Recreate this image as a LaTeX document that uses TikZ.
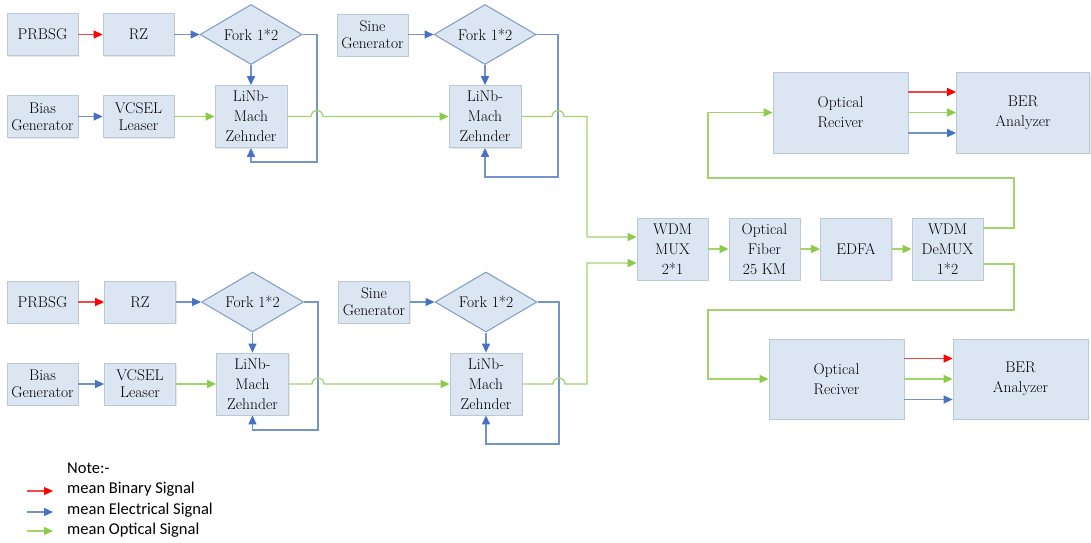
\documentclass[tikz,border=0pt]{standalone}
\usepackage{fontspec}
\newfontfamily\serifface{Latin Modern Roman}
\newfontfamily\notefont{Carlito}
\usetikzlibrary{arrows.meta,shapes.geometric,shadows}

\definecolor{boxfill}{HTML}{DCE6F2}
\definecolor{boxline}{HTML}{BCC8D6}
\definecolor{forkline}{HTML}{7E9CC4}
\definecolor{redline}{HTML}{F04848}
\definecolor{redtip}{HTML}{FF0000}
\definecolor{blueline}{HTML}{7393CA}
\definecolor{bluetip}{HTML}{4472C4}
\definecolor{greenline}{HTML}{A2D46C}
\definecolor{greentip}{HTML}{8CCB48}

\newcommand{\mainsz}{\serifface\fontsize{15.5}{20}\selectfont}
\newcommand{\notesz}{\notefont\fontsize{16.5}{20}\selectfont}

\tikzset{
  blk/.style={draw=boxline, fill=boxfill, line width=0.8pt,
    minimum width=71pt, minimum height=42pt, inner sep=1pt,
    align=center, font=\mainsz,
    drop shadow={opacity=0.18, shadow xshift=1.2pt, shadow yshift=-1.2pt}},
  fork/.style={diamond, shape aspect=1.7, draw=forkline, fill=boxfill,
    line width=1pt, minimum width=102pt, minimum height=60pt,
    inner sep=0pt, font=\mainsz},
  sig/.style={line width=1.3pt},
  bin/.style={sig, draw=redline, -{Triangle[length=9pt,width=8pt,color=redtip]}},
  elec/.style={sig, draw=blueline, -{Triangle[length=9pt,width=8pt,color=bluetip]}},
  opt/.style={sig, draw=greenline, -{Triangle[length=9pt,width=8pt,color=greentip]}},
  hop/.style={start angle=180, end angle=360, radius=6}
}

\begin{document}
\begin{tikzpicture}[x={(1pt,0pt)}, y={(0pt,-1pt)}]
\fill[white] (0,0) rectangle (1091,542);
\path[use as bounding box] (0,0) rectangle (1091,542);

% ---------- upper transmitter ----------
\node[blk] (PR1) at (42.5,34.5) {PRBSG};
\node[blk] (RZ1) at (138.5,34.5) {RZ};
\node[fork] (F1) at (251,34.5) {Fork 1*2};
\node[blk] (SG1) at (372.5,35) {Sine\\[-3pt]Generator};
\node[fork] (F2) at (485,34.5) {Fork 1*2};
\node[blk] (BG1) at (42.5,116.5) {Bias\\[-3pt]Generator};
\node[blk] (VC1) at (138.5,116.5) {VCSEL\\[-3pt]Leaser};
\node[blk, minimum width=72pt, minimum height=62pt] (L1) at (251,116.5) {LiNb-\\Mach\\Zehnder};
\node[blk, minimum width=72pt, minimum height=62pt] (L2) at (485,116.5) {LiNb-\\Mach\\Zehnder};

% ---------- lower transmitter ----------
\node[blk] (PR2) at (42.5,302) {PRBSG};
\node[blk] (RZ2) at (140,302) {RZ};
\node[fork] (F3) at (252.5,302) {Fork 1*2};
\node[blk] (SG2) at (374,302) {Sine\\[-3pt]Generator};
\node[fork] (F4) at (486,302) {Fork 1*2};
\node[blk] (BG2) at (42.5,384) {Bias\\[-3pt]Generator};
\node[blk] (VC2) at (140,384) {VCSEL\\[-3pt]Leaser};
\node[blk, minimum width=72pt, minimum height=62pt] (L3) at (252.5,384) {LiNb-\\Mach\\Zehnder};
\node[blk, minimum width=72pt, minimum height=62pt] (L4) at (486,384) {LiNb-\\Mach\\Zehnder};

% ---------- link ----------
\node[blk, minimum height=62pt] (MX) at (672.5,249) {WDM\\MUX\\2*1};
\node[blk, minimum height=62pt] (OF) at (764.5,249) {Optical\\Fiber\\25 KM};
\node[blk, minimum height=62pt] (ED) at (856,249) {EDFA};
\node[blk, minimum height=62pt] (DM) at (947.5,249) {WDM\\DeMUX\\1*2};

% ---------- receivers ----------
\node[blk, minimum width=135pt, minimum height=81pt] (OR1) at (840.5,112.5) {Optical\\Reciver};
\node[blk, minimum width=133pt, minimum height=81pt] (BE1) at (1023,112.5) {BER\\Analyzer};
\node[blk, minimum width=135pt, minimum height=80pt] (OR2) at (836.5,379) {Optical\\Reciver};
\node[blk, minimum width=135pt, minimum height=80pt] (BE2) at (1020.5,379) {BER\\Analyzer};

% ---------- routing points ----------
\coordinate (f1c) at (317,162);
\coordinate (f2c) at (558,177);
\coordinate (f3c) at (318,430);
\coordinate (f4c) at (559,444);
\coordinate (h1) at (317,116.5);
\coordinate (h2) at (558,116.5);
\coordinate (h3) at (318,384);
\coordinate (h4) at (559,384);
\coordinate (j1) at (587,116.5);
\coordinate (j2) at (587,384);
\coordinate (ur) at (1014,178);
\coordinate (ul) at (708,178);
\coordinate (lr) at (1014,310);
\coordinate (ll) at (708,310);

% ---------- upper transmitter links ----------
\draw[bin] (PR1) -- (RZ1);
\draw[elec] (RZ1) -- (F1.west);
\draw[elec] (F1.south) -- (L1.north);
\draw[elec] (BG1) -- (VC1);
\draw[opt] (VC1) -- (L1.west);
\draw[elec] (F1.east) -| (f1c) -| (L1.south);
\draw[elec] (SG1.east |- F2.west) -- (F2.west);
\draw[elec] (F2.south) -- (L2.north);
\draw[elec] (F2.east) -| (f2c) -| (L2.south);
\draw[opt] (L1.east) -- ([xshift=-6pt]h1) arc[hop] -- (L2.west);
\draw[opt] (L2.east) -- ([xshift=-6pt]h2) arc[hop] -- (j1) |- ([yshift=12pt]MX.west);

% ---------- lower transmitter links ----------
\draw[bin] (PR2) -- (RZ2);
\draw[elec] (RZ2) -- (F3.west);
\draw[elec] (F3.south) -- (L3.north);
\draw[elec] (BG2) -- (VC2);
\draw[opt] (VC2) -- (L3.west);
\draw[elec] (F3.east) -| (f3c) -| (L3.south);
\draw[elec] (SG2) -- (F4.west);
\draw[elec] (F4.south) -- (L4.north);
\draw[elec] (F4.east) -| (f4c) -| (L4.south);
\draw[opt] (L3.east) -- ([xshift=-6pt]h3) arc[hop] -- (L4.west);
\draw[opt] (L4.east) -- ([xshift=-6pt]h4) arc[hop] -- (j2) |- ([yshift=-14pt]MX.west);

% ---------- link chain ----------
\draw[opt] (MX) -- (OF);
\draw[opt] (OF) -- (ED);
\draw[opt] (ED) -- (DM);
\draw[opt] ([yshift=21pt]DM.east) -| (ur) -- (ul) |- (OR1.west);
\draw[opt] ([yshift=-15pt]DM.east) -| (lr) -- (ll) |- (OR2.west);

% ---------- receiver to analyzer ----------
\draw[bin] ([yshift=20.5pt]OR1.east) -- ([yshift=20.5pt]OR1.east -| BE1.west);
\draw[opt] (OR1.east) -- (BE1.west);
\draw[elec] ([yshift=-20.5pt]OR1.east) -- ([yshift=-20.5pt]OR1.east -| BE1.west);
\draw[bin] ([yshift=20.5pt]OR2.east) -- ([yshift=20.5pt]OR2.east -| BE2.west);
\draw[opt] (OR2.east) -- (BE2.west);
\draw[elec] ([yshift=-20.5pt]OR2.east) -- ([yshift=-20.5pt]OR2.east -| BE2.west);

% ---------- key ----------
\node[anchor=west, inner sep=0pt, font=\notesz] (note) at (67,468) {Note:-};
\node[anchor=west, inner sep=0pt, font=\notesz] (kb) at (67,489.5) {mean Binary Signal};
\node[anchor=west, inner sep=0pt, font=\notesz] (ke) at (67,510.5) {mean Electrical Signal};
\node[anchor=west, inner sep=0pt, font=\notesz] (ko) at (67,530) {mean Optical Signal};
\coordinate (kb0) at (27,491);
\coordinate (ke0) at (27,512);
\coordinate (ko0) at (27,531);
\draw[bin] (kb0) -- ++(26,0);
\draw[elec] (ke0) -- ++(26,0);
\draw[opt] (ko0) -- ++(26,0);
\end{tikzpicture}
\end{document}
